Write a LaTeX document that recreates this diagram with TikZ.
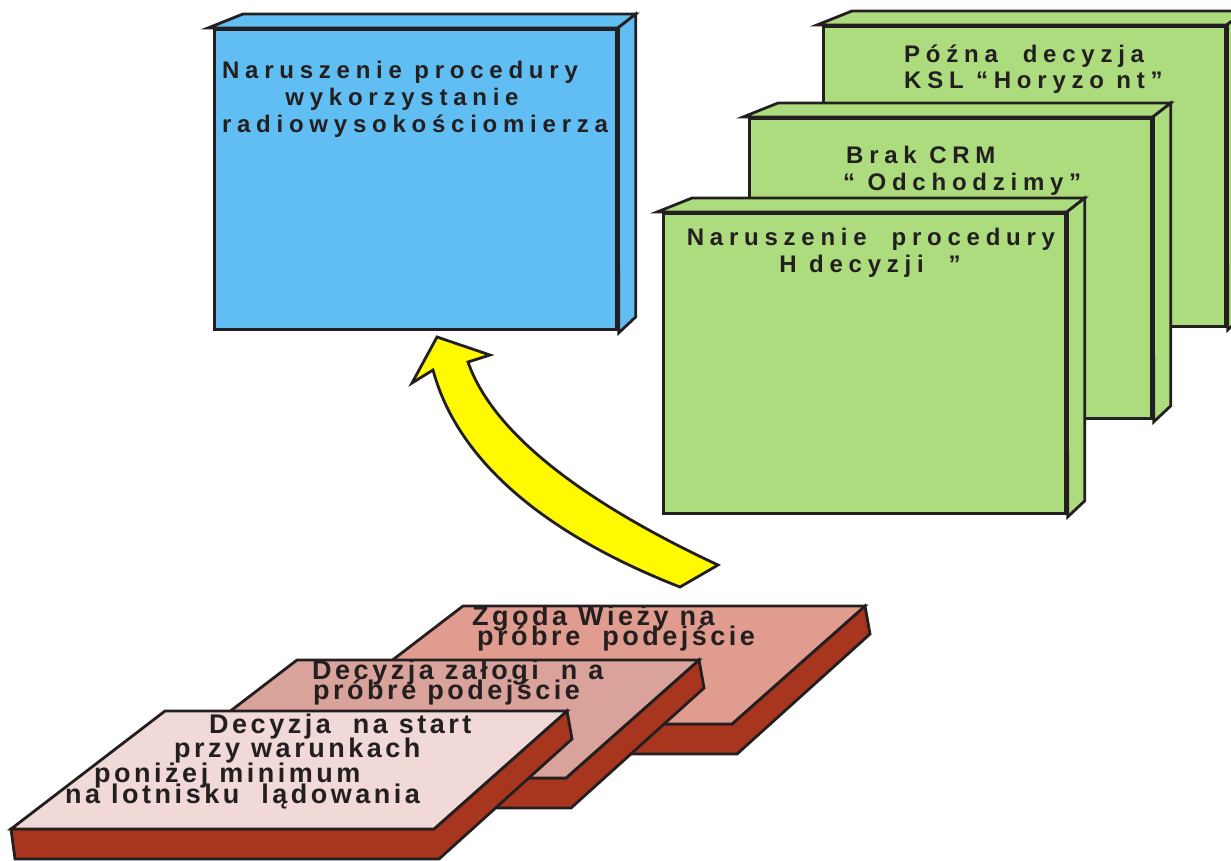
\documentclass[tikz,border=0pt]{standalone}
\usepackage{fontspec}
\usepackage{tikz}
\usetikzlibrary{calc}
\newfontfamily\boxfont{Liberation Sans}[LetterSpace=24]
\newfontfamily\slabfont{Liberation Sans}[LetterSpace=13]
\definecolor{edge}{RGB}{35,31,32}
\definecolor{boxblue}{RGB}{96,190,242}
\definecolor{boxgreen}{RGB}{173,220,126}
\definecolor{arrowyellow}{RGB}{255,250,0}
\definecolor{slabred}{RGB}{168,54,31}
\definecolor{slabback}{RGB}{224,156,142}
\definecolor{slabmid}{RGB}{217,163,155}
\definecolor{slabfront}{RGB}{240,217,214}

\begin{document}
\begin{tikzpicture}[
    x=1pt, y=-1pt,
    outline/.style={draw=edge, line width=2.8pt, line join=miter},
    box/.style={outline, rectangle, minimum width=402pt, minimum height=300pt, anchor=north west, inner sep=0pt},
    boxtext/.style={font=\boxfont\bfseries\fontsize{24}{27}\selectfont, text=edge, inner sep=0pt},
    slabtext/.style={font=\slabfont\bfseries\fontsize{27}{24}\selectfont, text=edge, inner sep=0pt, anchor=base west},
    slabside/.style={outline, fill=slabred},
]
\useasboundingbox (0,0) rectangle (1231,860);

% boxes, back to front
\foreach \nm/\x/\y/\col in {late/822/25/boxgreen, crm/748/117/boxgreen, proc/662/212/boxgreen, radio/213/28/boxblue}{
  \node[box, fill=\col] (\nm) at (\x,\y) {};
  \draw[outline, fill=\col] ($(\nm.north west)+(-5,0)$) -- ++(35,-14) -- ($(\nm.north east)+(18,-14)$) -- (\nm.north east) -- cycle;
  \draw[outline, fill=\col] (\nm.north east) -- ++(18,-14) -- ($(\nm.south east)+(18,-14)$) -- ($(\nm.south east)+(1,2)$) -- cycle;
  \draw[edge, line width=5pt] (\nm.north east) -- (\nm.south east);
}

\foreach \t/\x/\y/\a [count=\i] in {
    Naruszenie procedury/400/78/base, wykorzystanie/402/105/base, radiowysokościomierza/415/132/base,
    Późna\ \ decyzja/904/62/base west, KSL “Horyzo nt”/904/88/base west,
    Brak CRM/846/163/base west, “ Odchodzimy”/843/190/base west,
    Naruszenie\ \ procedury/871/245/base, H decyzji\ \ ”/870/272/base}
  \node[boxtext, anchor=\a] (line\i) at (\x,\y) {\t};

% arrow
\draw[outline, fill=arrowyellow] (718,565) -- (680,587) .. controls (560,540) and (460,470) .. (433,370)
  -- (412,383) -- (437,337) -- (490,355) -- (468,362) .. controls (495,440) and (600,510) .. (718,565) -- cycle;

% slabs
\foreach \nm/\x/\y/\col in {tower/463/606/slabback, crew/297/660/slabmid, start/165/711/slabfront}{
  \coordinate (\nm) at (\x,\y);
  \draw[slabside] ($(\nm)+(-154,118)$) -- ($(\nm)+(269,118)$) -- ($(\nm)+(402,0)$) -- ($(\nm)+(407,28)$)
    -- ($(\nm)+(274,148)$) -- ($(\nm)+(-150,148)$) -- cycle;
  \draw[outline, fill=\col] (\nm) -- ++(402,0) -- ++(-133,118) -- ++(-423,0) -- cycle;
}

\foreach \t/\x/\y [count=\i] in {
    Zgoda Wieży na/472/625, próbre\ \ podejście/477/645,
    Decyzja załogi\ \ n a/312/679, próbre podejście/313/699,
    Decyzja\ \ na start/209/733, przy warunkach/174/757, poniżej minimum/94/782, na lotnisku\ \ lądowania/65/803}
  \node[slabtext] (slabline\i) at (\x,\y) {\t};

\end{tikzpicture}
\end{document}
